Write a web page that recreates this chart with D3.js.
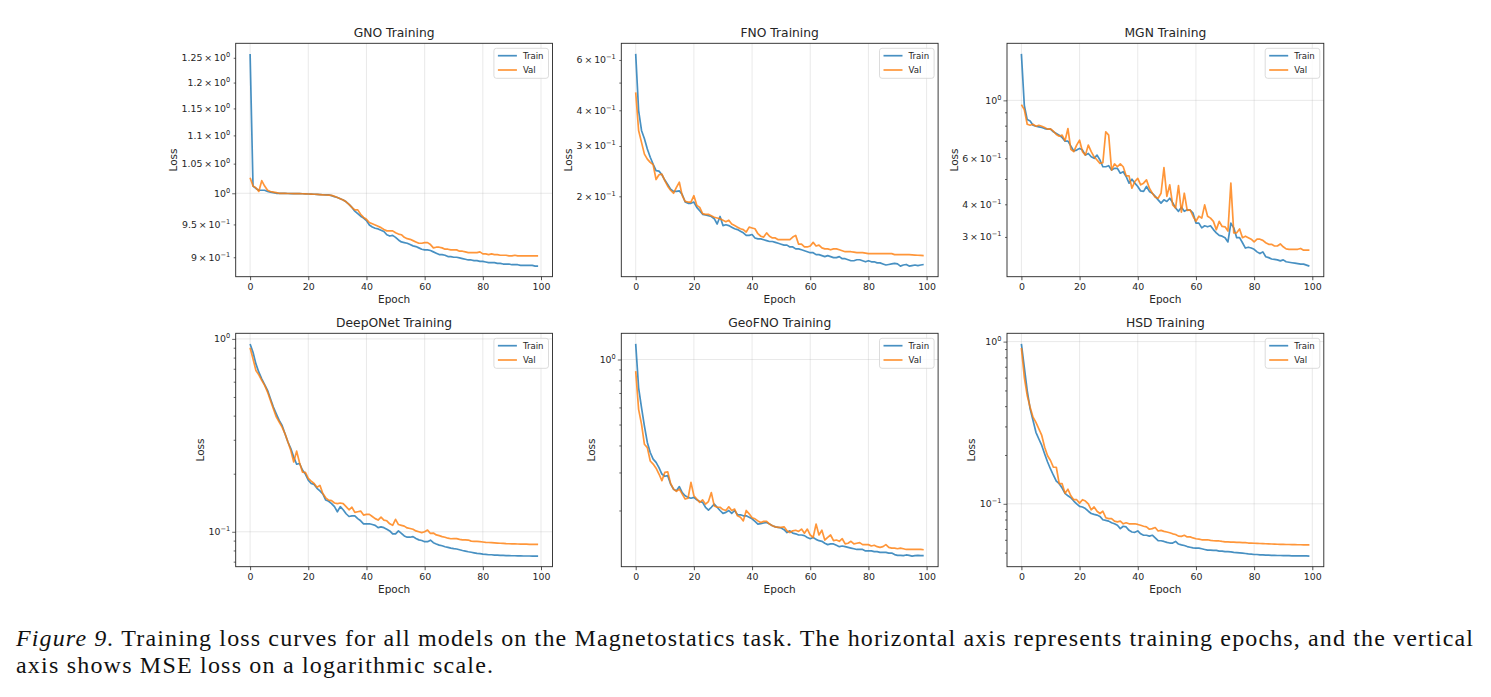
<!DOCTYPE html>
<html><head><meta charset="utf-8">
<script src="https://cdn.jsdelivr.net/npm/d3@7"></script>
<style>body{margin:0;background:#fff}svg{display:block}</style>
</head><body>
<svg id="fig" width="1491" height="697"></svg>
<script>
// ---------- DATA ----------
const titles = ["GNO Training","FNO Training","MGN Training","DeepONet Training","GeoFNO Training","HSD Training"];
const seriesNames = ["Train","Val"];
const xTickValues = [0,20,40,60,80,100];

const gnoTrain = [
1.258,1.012,1.008,1.005,1.005,1.005,1.003,1.002,1.001,1.000,
1.000,0.9998,0.9997,0.9996,0.9995,0.9995,0.9994,0.9993,0.9992,0.9990,
0.9988,0.9986,0.9984,0.9982,0.9979,0.9976,0.9973,0.9975,0.9962,0.9945,
0.993,0.991,0.989,0.986,0.982,0.977,0.971,0.967,0.963,0.960,
0.956,0.949,0.946,0.944,0.943,0.941,0.939,0.934,0.932,0.933,
0.930,0.926,0.923,0.922,0.921,0.919,0.917,0.916,0.914,0.912,
0.911,0.911,0.910,0.908,0.906,0.904,0.904,0.903,0.901,0.901,
0.900,0.900,0.899,0.898,0.897,0.896,0.896,0.895,0.895,0.894,
0.894,0.893,0.892,0.892,0.892,0.891,0.891,0.890,0.890,0.890,
0.889,0.889,0.889,0.888,0.888,0.888,0.888,0.888,0.887,0.887];
const gnoVal = [
1.026,1.012,1.009,1.003,1.021,1.012,1.005,1.003,1.002,1.001,
1.000,0.9998,0.9997,0.9996,0.9996,0.9995,0.9994,0.9993,0.9992,0.9990,
0.9988,0.9986,0.9984,0.9981,0.9978,0.9975,0.9972,0.9970,0.9965,0.9950,
0.993,0.991,0.989,0.986,0.982,0.977,0.973,0.973,0.966,0.961,
0.958,0.953,0.951,0.949,0.947,0.945,0.942,0.940,0.940,0.940,
0.937,0.935,0.934,0.930,0.928,0.927,0.925,0.923,0.921,0.921,
0.922,0.922,0.919,0.914,0.915,0.915,0.914,0.912,0.912,0.911,
0.911,0.911,0.909,0.909,0.908,0.907,0.907,0.907,0.907,0.908,
0.905,0.905,0.904,0.905,0.904,0.904,0.903,0.903,0.903,0.902,
0.902,0.903,0.902,0.902,0.902,0.902,0.902,0.902,0.902,0.902];

const fnoTrain = [
0.630,0.399,0.340,0.318,0.293,0.274,0.259,0.246,0.245,0.238,
0.228,0.220,0.212,0.208,0.208,0.209,0.203,0.191,0.189,0.189,
0.191,0.183,0.178,0.173,0.172,0.171,0.170,0.167,0.160,0.170,
0.158,0.159,0.158,0.156,0.154,0.153,0.151,0.149,0.146,0.146,
0.147,0.143,0.142,0.142,0.141,0.140,0.139,0.139,0.138,0.137,
0.136,0.135,0.135,0.133,0.133,0.131,0.131,0.130,0.129,0.128,
0.127,0.127,0.125,0.125,0.124,0.123,0.124,0.123,0.122,0.122,
0.123,0.121,0.121,0.120,0.119,0.119,0.120,0.120,0.119,0.118,
0.119,0.118,0.118,0.117,0.117,0.116,0.115,0.1155,0.116,0.1165,
0.116,0.114,0.115,0.1155,0.114,0.1145,0.115,0.1145,0.115,0.1155];
const fnoVal = [
0.462,0.340,0.309,0.281,0.270,0.263,0.258,0.229,0.238,0.239,
0.227,0.217,0.210,0.205,0.215,0.224,0.201,0.192,0.191,0.191,
0.201,0.186,0.183,0.174,0.173,0.173,0.171,0.169,0.168,0.167,
0.165,0.163,0.165,0.160,0.158,0.156,0.154,0.153,0.150,0.156,
0.155,0.154,0.148,0.145,0.144,0.149,0.145,0.143,0.143,0.141,
0.141,0.141,0.141,0.141,0.144,0.146,0.136,0.136,0.133,0.133,
0.134,0.138,0.134,0.135,0.132,0.131,0.131,0.130,0.131,0.131,
0.130,0.129,0.128,0.128,0.128,0.1275,0.127,0.127,0.127,0.1265,
0.126,0.126,0.126,0.126,0.126,0.126,0.126,0.126,0.126,0.125,
0.125,0.125,0.125,0.125,0.125,0.1248,0.1246,0.1244,0.1242,0.124];

const mgnTrain = [
1.506,0.957,0.844,0.834,0.803,0.796,0.792,0.787,0.780,0.776,
0.776,0.758,0.747,0.736,0.721,0.698,0.698,0.668,0.640,0.645,
0.655,0.645,0.617,0.626,0.608,0.600,0.617,0.591,0.557,0.557,
0.562,0.541,0.549,0.549,0.526,0.533,0.511,0.482,0.499,0.482,
0.468,0.450,0.448,0.468,0.448,0.441,0.429,0.416,0.404,0.416,
0.410,0.422,0.406,0.387,0.376,0.390,0.376,0.381,0.380,0.370,
0.339,0.339,0.325,0.331,0.328,0.331,0.320,0.311,0.304,0.302,
0.298,0.287,0.339,0.325,0.298,0.298,0.285,0.272,0.274,0.272,
0.269,0.263,0.259,0.263,0.252,0.250,0.247,0.246,0.245,0.243,
0.245,0.241,0.240,0.239,0.238,0.237,0.236,0.236,0.234,0.232];
const mgnVal = [
0.963,0.921,0.810,0.803,0.810,0.796,0.803,0.796,0.787,0.776,
0.778,0.762,0.740,0.729,0.736,0.700,0.780,0.649,0.636,0.674,
0.704,0.636,0.617,0.674,0.636,0.608,0.591,0.574,0.577,0.758,
0.736,0.541,0.571,0.557,0.571,0.557,0.514,0.514,0.461,0.489,
0.503,0.475,0.482,0.496,0.461,0.441,0.426,0.422,0.441,0.553,
0.429,0.475,0.398,0.387,0.472,0.373,0.441,0.379,0.381,0.360,
0.344,0.360,0.354,0.398,0.360,0.354,0.344,0.320,0.344,0.329,
0.328,0.316,0.482,0.311,0.311,0.322,0.298,0.302,0.298,0.294,
0.287,0.294,0.294,0.291,0.285,0.281,0.281,0.277,0.277,0.282,
0.275,0.270,0.269,0.269,0.269,0.269,0.271,0.267,0.267,0.267];

const deeponetTrain = [
0.942,0.853,0.742,0.672,0.621,0.580,0.541,0.489,0.443,0.409,
0.378,0.356,0.322,0.292,0.270,0.244,0.224,0.226,0.209,0.199,
0.185,0.178,0.176,0.168,0.163,0.157,0.146,0.144,0.140,0.135,
0.127,0.135,0.130,0.124,0.120,0.121,0.121,0.117,0.114,0.110,
0.110,0.110,0.109,0.108,0.105,0.106,0.105,0.103,0.101,0.0975,
0.0975,0.101,0.0982,0.0951,0.0937,0.0937,0.0944,0.0922,0.0908,0.0901,
0.0888,0.0888,0.0905,0.0878,0.0865,0.0853,0.0846,0.0836,0.0830,0.0823,
0.0817,0.0814,0.0807,0.0800,0.0794,0.0788,0.0783,0.0778,0.0773,0.0770,
0.0766,0.0763,0.0760,0.0760,0.0757,0.0757,0.0754,0.0754,0.0753,0.0752,
0.0751,0.0751,0.0750,0.0750,0.0749,0.0749,0.0749,0.0748,0.0748,0.0748];
const deeponetVal = [
0.899,0.788,0.686,0.651,0.609,0.574,0.530,0.480,0.434,0.394,
0.371,0.349,0.322,0.292,0.264,0.230,0.262,0.228,0.204,0.203,
0.189,0.183,0.178,0.170,0.174,0.158,0.150,0.146,0.145,0.141,
0.140,0.141,0.140,0.135,0.130,0.134,0.126,0.127,0.128,0.122,
0.123,0.123,0.120,0.117,0.115,0.119,0.115,0.114,0.110,0.108,
0.116,0.109,0.108,0.107,0.1047,0.104,0.103,0.101,0.100,0.099,
0.100,0.102,0.098,0.0985,0.0963,0.0955,0.0944,0.0937,0.0926,0.0920,
0.0922,0.0922,0.0913,0.0908,0.0908,0.0906,0.0894,0.0892,0.0891,0.0888,
0.0885,0.0882,0.0880,0.0878,0.0876,0.0874,0.0872,0.0870,0.0868,0.0867,
0.0866,0.0865,0.0864,0.0863,0.0862,0.0862,0.0861,0.0861,0.0860,0.0860];

const geofnoTrain = [
1.181,0.740,0.598,0.492,0.413,0.371,0.346,0.334,0.316,0.295,
0.288,0.290,0.265,0.251,0.247,0.258,0.242,0.234,0.230,0.228,
0.230,0.224,0.220,0.218,0.207,0.201,0.207,0.214,0.207,0.200,
0.194,0.196,0.200,0.194,0.200,0.191,0.191,0.189,0.189,0.186,
0.183,0.178,0.173,0.174,0.175,0.176,0.173,0.170,0.168,0.167,
0.166,0.163,0.158,0.161,0.157,0.156,0.154,0.154,0.153,0.150,
0.148,0.150,0.147,0.145,0.144,0.141,0.139,0.140,0.140,0.138,
0.136,0.137,0.136,0.135,0.134,0.133,0.132,0.132,0.132,0.130,
0.130,0.130,0.129,0.129,0.128,0.128,0.128,0.127,0.127,0.125,
0.124,0.124,0.1236,0.1245,0.124,0.123,0.1236,0.124,0.1236,0.1236];
const geofnoVal = [
0.884,0.588,0.502,0.405,0.391,0.339,0.328,0.314,0.295,0.275,
0.300,0.302,0.267,0.251,0.245,0.251,0.238,0.226,0.228,0.270,
0.234,0.226,0.218,0.224,0.214,0.220,0.242,0.210,0.207,0.207,
0.202,0.200,0.208,0.200,0.203,0.189,0.186,0.179,0.200,0.193,
0.185,0.183,0.179,0.176,0.178,0.178,0.173,0.170,0.168,0.167,
0.167,0.168,0.161,0.158,0.161,0.162,0.160,0.164,0.157,0.164,
0.154,0.150,0.173,0.154,0.162,0.146,0.150,0.154,0.145,0.146,
0.144,0.148,0.140,0.141,0.144,0.140,0.141,0.142,0.139,0.139,
0.139,0.137,0.138,0.136,0.135,0.136,0.139,0.135,0.134,0.134,
0.133,0.134,0.133,0.132,0.132,0.132,0.132,0.132,0.132,0.1316];

const hsdTrain = [
0.968,0.695,0.499,0.385,0.326,0.276,0.251,0.229,0.203,0.181,
0.164,0.150,0.138,0.133,0.125,0.116,0.112,0.109,0.104,0.100,
0.0965,0.0956,0.0935,0.0900,0.0871,0.0860,0.0852,0.0836,0.0797,0.0790,
0.0782,0.0764,0.0753,0.0737,0.0703,0.0727,0.0720,0.0686,0.0670,0.0667,
0.0680,0.0653,0.0640,0.0640,0.0632,0.0640,0.0616,0.0592,0.0592,0.0586,
0.0578,0.0573,0.0573,0.0586,0.0565,0.0558,0.0553,0.0545,0.0540,0.0535,
0.0533,0.0533,0.0528,0.0523,0.0518,0.0518,0.0516,0.0516,0.0511,0.0511,
0.0507,0.0507,0.0505,0.0502,0.0500,0.0498,0.0496,0.0494,0.0491,0.0489,
0.0487,0.0487,0.0484,0.0484,0.0482,0.0482,0.0481,0.0481,0.0480,0.0480,
0.0479,0.0479,0.0479,0.0478,0.0478,0.0478,0.0477,0.0477,0.0477,0.0476];
const hsdVal = [
0.914,0.603,0.465,0.394,0.342,0.318,0.290,0.264,0.223,0.198,
0.185,0.168,0.168,0.133,0.133,0.116,0.123,0.112,0.106,0.106,
0.101,0.106,0.104,0.100,0.0918,0.0956,0.0900,0.0871,0.0900,0.0821,
0.0810,0.0810,0.0782,0.0773,0.0782,0.0753,0.0764,0.0753,0.0753,0.0753,
0.0746,0.0737,0.0727,0.0720,0.0697,0.0703,0.0714,0.0680,0.0686,0.0676,
0.0670,0.0663,0.0653,0.0647,0.0632,0.0630,0.0640,0.0625,0.0625,0.0616,
0.0609,0.0606,0.0600,0.0600,0.0600,0.0595,0.0592,0.0590,0.0590,0.0586,
0.0583,0.0583,0.0581,0.0581,0.0578,0.0578,0.0576,0.0576,0.0573,0.0573,
0.0571,0.0570,0.0569,0.0568,0.0567,0.0566,0.0565,0.0564,0.0563,0.0562,
0.0562,0.0561,0.0561,0.0560,0.0560,0.0559,0.0559,0.0558,0.0558,0.0558];

// labelled y ticks per panel
const gnoYTicks = [0.9,0.95,1,1.05,1.1,1.15,1.2,1.25];
const fnoYTicks = [0.2,0.3,0.4,0.6];
const mgnYTicks = [0.3,0.4,0.6,1];
const deeponetYTicks = [0.1,1];
const geofnoYTicks = [1];
const hsdYTicks = [0.1,1];

const captionItalic = "Figure 9.";
const captionLine1 = " Training loss curves for all models on the Magnetostatics task. The horizontal axis represents training epochs, and the vertical";
const captionLine2 = "axis shows MSE loss on a logarithmic scale.";

const panels = [
  {title:titles[0], train:gnoTrain, val:gnoVal, yTicks:gnoYTicks},
  {title:titles[1], train:fnoTrain, val:fnoVal, yTicks:fnoYTicks},
  {title:titles[2], train:mgnTrain, val:mgnVal, yTicks:mgnYTicks},
  {title:titles[3], train:deeponetTrain, val:deeponetVal, yTicks:deeponetYTicks},
  {title:titles[4], train:geofnoTrain, val:geofnoVal, yTicks:geofnoYTicks},
  {title:titles[5], train:hsdTrain, val:hsdVal, yTicks:hsdYTicks}
];

// ---------- LAYOUT / STYLE ----------
const FONT = "'DejaVu Sans', sans-serif";
const colLeft = [235.7, 621.3, 1007];
const rowTop = [43.3, 333.3];
const axW = 316.8, axH = 233.4;
const COLORS = ["#1f77b4", "#ff7f0e"];
const INK = "#262626";

const svg = d3.select("#fig");

function isPow10(v){ const l = Math.log10(v); return Math.abs(l - Math.round(l)) < 1e-9; }

function addTickLabel(g, v, xPos, yPos){
  const e = Math.floor(Math.log10(v) + 1e-9);
  const m = +(v / Math.pow(10, e)).toFixed(4);
  const t = g.append("text").attr("x", xPos).attr("y", yPos)
    .attr("text-anchor","end").attr("font-family",FONT).attr("font-size",9.4).attr("fill",INK);
  t.append("tspan").text(m === 1 ? "10" : (m + "\u2009\u00d7\u200910"));
  t.append("tspan").attr("font-size",6.6).attr("dy",-3.9)
    .text(e < 0 ? "\u2212" + (-e) : String(e));
  return t;
}

panels.forEach((p, i) => {
  const L = colLeft[i % 3], T = rowTop[Math.floor(i / 3)], R = L + axW, B = T + axH;
  const x = d3.scaleLinear().domain([-4.95, 103.95]).range([L, R]);
  const all = p.train.concat(p.val);
  const [lo, hi] = d3.extent(all).map(Math.log10);
  const pad = (hi - lo) * 0.05;
  const y = d3.scaleLog().domain([Math.pow(10, lo - pad), Math.pow(10, hi + pad)]).range([B, T]);
  const [d0, d1] = y.domain();

  const g = svg.append("g");

  // minor / major tick values
  const majors = [], minors = [];
  for (let k = Math.floor(Math.log10(d0)) - 1; k <= Math.ceil(Math.log10(d1)); k++){
    for (let m = 1; m <= 9; m++){
      const v = m * Math.pow(10, k);
      if (v >= d0 && v <= d1) (m === 1 ? majors : minors).push(v);
    }
  }
  p.yTicks.forEach(v => { if (!isPow10(v) && !minors.some(u => Math.abs(u - v) < 1e-9)) minors.push(v); });

  // grid
  g.append("g").selectAll("line").data(xTickValues).join("line")
    .attr("x1", d => x(d)).attr("x2", d => x(d)).attr("y1", T).attr("y2", B)
    .attr("stroke", "#b0b0b0").attr("stroke-opacity", 0.35).attr("stroke-width", 0.8);
  g.append("g").selectAll("line").data(majors).join("line")
    .attr("x1", L).attr("x2", R).attr("y1", d => y(d)).attr("y2", d => y(d))
    .attr("stroke", "#b0b0b0").attr("stroke-opacity", 0.35).attr("stroke-width", 0.8);

  // series
  const line = d3.line().x((d, j) => x(j)).y(d => y(d));
  const clipId = "clip" + i;
  svg.append("clipPath").attr("id", clipId).append("rect").attr("x", L).attr("y", T).attr("width", axW).attr("height", axH);
  [p.train, p.val].forEach((s, k) => {
    g.append("path").datum(s).attr("d", line).attr("fill", "none")
      .attr("stroke", COLORS[k]).attr("stroke-opacity", 0.82).attr("stroke-width", 1.7)
      .attr("stroke-linejoin", "round").attr("clip-path", `url(#${clipId})`);
  });

  // x axis
  const xa = g.append("g").attr("transform", `translate(0,${B})`)
    .call(d3.axisBottom(x).tickValues(xTickValues).tickSize(3.5).tickPadding(3.1).tickFormat(d3.format("d")));
  xa.select(".domain").remove();
  xa.selectAll("line").attr("stroke", INK).attr("stroke-width", 0.8);
  xa.selectAll("text").attr("font-family", FONT).attr("font-size", 9.4).attr("fill", INK);

  // y axis tick marks
  const ya1 = g.append("g").attr("transform", `translate(${L},0)`)
    .call(d3.axisLeft(y).tickValues(majors).tickSize(3.5).tickFormat(""));
  const ya2 = g.append("g").attr("transform", `translate(${L},0)`)
    .call(d3.axisLeft(y).tickValues(minors).tickSize(2).tickFormat(""));
  [ya1, ya2].forEach(a => { a.select(".domain").remove(); a.selectAll("line").attr("stroke", INK).attr("stroke-width", 0.7); });

  // y tick labels
  const lab = g.append("g");
  p.yTicks.forEach(v => addTickLabel(lab, v, L - 5.5, y(v) + 3.3));

  // spines
  g.append("rect").attr("x", L).attr("y", T).attr("width", axW).attr("height", axH)
    .attr("fill", "none").attr("stroke", INK).attr("stroke-width", 0.9);

  // title
  g.append("text").attr("x", (L + R) / 2).attr("y", T - 6).attr("text-anchor", "middle")
    .attr("font-family", FONT).attr("font-size", 12.3).attr("fill", INK).text(p.title);
  // x label
  g.append("text").attr("x", (L + R) / 2).attr("y", B + 26.6).attr("text-anchor", "middle")
    .attr("font-family", FONT).attr("font-size", 10.5).attr("fill", INK).text("Epoch");
  // y label
  const bb = lab.node().getBBox();
  const lx = bb.x - 8.5;
  g.append("text").attr("transform", `translate(${lx},${(T + B) / 2}) rotate(-90)`)
    .attr("text-anchor", "middle").attr("dominant-baseline", "central")
    .attr("font-family", FONT).attr("font-size", 10.5).attr("fill", INK).text("Loss");

  // legend
  const lw = 54.6, lh = 30, lx0 = R - 4 - lw, ly0 = T + 5;
  const lg = g.append("g");
  lg.append("rect").attr("x", lx0).attr("y", ly0).attr("width", lw).attr("height", lh).attr("rx", 2.5)
    .attr("fill", "#fff").attr("fill-opacity", 0.8).attr("stroke", "#d3d3d3").attr("stroke-width", 0.8);
  seriesNames.forEach((n, k) => {
    const yy = ly0 + 7.4 + k * 14.3;
    lg.append("line").attr("x1", lx0 + 4).attr("x2", lx0 + 23).attr("y1", yy).attr("y2", yy)
      .attr("stroke", COLORS[k]).attr("stroke-opacity", 0.82).attr("stroke-width", 1.7);
    lg.append("text").attr("x", lx0 + 29).attr("y", yy + 3)
      .attr("font-family", FONT).attr("font-size", 8.6).attr("fill", INK).text(n);
  });
});

// caption
const cap = svg.append("g").attr("font-family", "'Liberation Serif', 'Times New Roman', serif").attr("font-size", 24).attr("fill", "#111");
const c1 = cap.append("text").attr("x", 16).attr("y", 646).attr("textLength", 1457).attr("lengthAdjust", "spacing");
c1.append("tspan").attr("font-style", "italic").text(captionItalic);
c1.append("tspan").text(captionLine1);
cap.append("text").attr("x", 16).attr("y", 673).attr("textLength", 477).attr("lengthAdjust", "spacing").text(captionLine2);
</script>
</body></html>
